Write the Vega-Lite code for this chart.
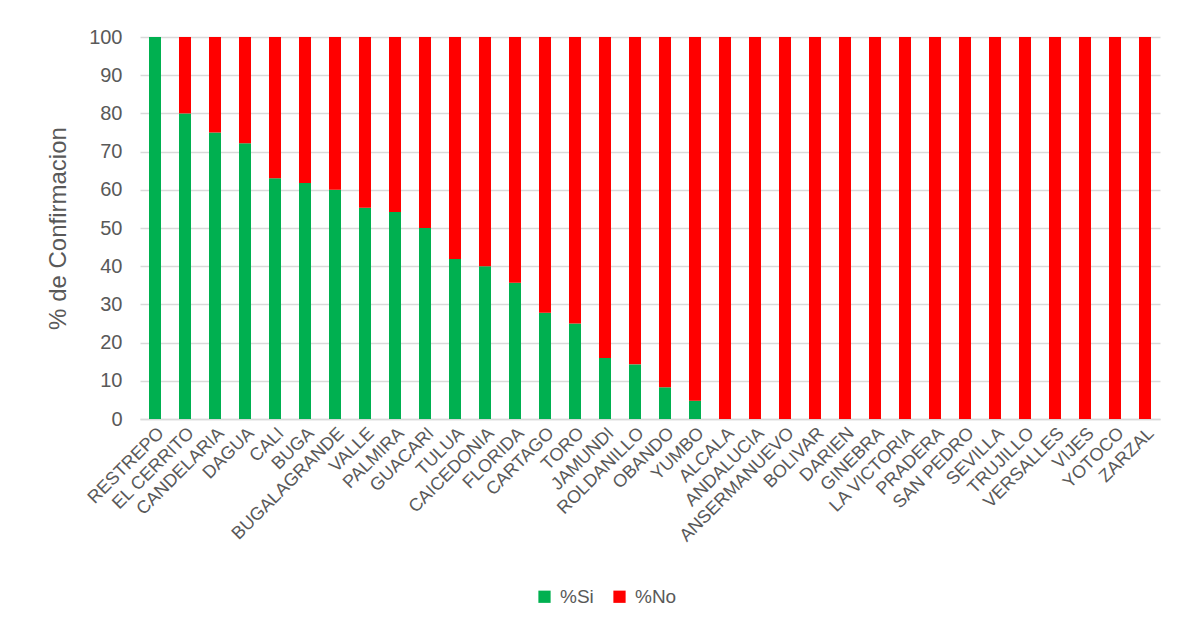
{
  "$schema": "https://vega.github.io/schema/vega-lite/v6.json",
  "width": 1020,
  "height": 382,
  "autosize": {"type": "none"},
  "padding": {"left": 140, "top": 37, "right": 17, "bottom": 209},
  "background": "white",
  "config": {
    "view": {"stroke": null},
    "font": "Liberation Sans",
    "axis": {"labelFont": "Liberation Sans", "titleFont": "Liberation Sans", "labelColor": "#595959", "titleColor": "#595959"}
  },
  "data": {
    "values": [
      {"municipio": "RESTREPO", "serie": "%Si", "k": 0, "valor": 100},
      {"municipio": "RESTREPO", "serie": "%No", "k": 1, "valor": 0},
      {"municipio": "EL CERRITO", "serie": "%Si", "k": 0, "valor": 80},
      {"municipio": "EL CERRITO", "serie": "%No", "k": 1, "valor": 20},
      {"municipio": "CANDELARIA", "serie": "%Si", "k": 0, "valor": 75},
      {"municipio": "CANDELARIA", "serie": "%No", "k": 1, "valor": 25},
      {"municipio": "DAGUA", "serie": "%Si", "k": 0, "valor": 72.2},
      {"municipio": "DAGUA", "serie": "%No", "k": 1, "valor": 27.8},
      {"municipio": "CALI", "serie": "%Si", "k": 0, "valor": 63},
      {"municipio": "CALI", "serie": "%No", "k": 1, "valor": 37},
      {"municipio": "BUGA", "serie": "%Si", "k": 0, "valor": 61.8},
      {"municipio": "BUGA", "serie": "%No", "k": 1, "valor": 38.2},
      {"municipio": "BUGALAGRANDE", "serie": "%Si", "k": 0, "valor": 60},
      {"municipio": "BUGALAGRANDE", "serie": "%No", "k": 1, "valor": 40},
      {"municipio": "VALLE", "serie": "%Si", "k": 0, "valor": 55.3},
      {"municipio": "VALLE", "serie": "%No", "k": 1, "valor": 44.7},
      {"municipio": "PALMIRA", "serie": "%Si", "k": 0, "valor": 54.2},
      {"municipio": "PALMIRA", "serie": "%No", "k": 1, "valor": 45.8},
      {"municipio": "GUACARI", "serie": "%Si", "k": 0, "valor": 50},
      {"municipio": "GUACARI", "serie": "%No", "k": 1, "valor": 50},
      {"municipio": "TULUA", "serie": "%Si", "k": 0, "valor": 41.9},
      {"municipio": "TULUA", "serie": "%No", "k": 1, "valor": 58.1},
      {"municipio": "CAICEDONIA", "serie": "%Si", "k": 0, "valor": 40},
      {"municipio": "CAICEDONIA", "serie": "%No", "k": 1, "valor": 60},
      {"municipio": "FLORIDA", "serie": "%Si", "k": 0, "valor": 35.7},
      {"municipio": "FLORIDA", "serie": "%No", "k": 1, "valor": 64.3},
      {"municipio": "CARTAGO", "serie": "%Si", "k": 0, "valor": 27.8},
      {"municipio": "CARTAGO", "serie": "%No", "k": 1, "valor": 72.2},
      {"municipio": "TORO", "serie": "%Si", "k": 0, "valor": 25},
      {"municipio": "TORO", "serie": "%No", "k": 1, "valor": 75},
      {"municipio": "JAMUNDI", "serie": "%Si", "k": 0, "valor": 16},
      {"municipio": "JAMUNDI", "serie": "%No", "k": 1, "valor": 84},
      {"municipio": "ROLDANILLO", "serie": "%Si", "k": 0, "valor": 14.3},
      {"municipio": "ROLDANILLO", "serie": "%No", "k": 1, "valor": 85.7},
      {"municipio": "OBANDO", "serie": "%Si", "k": 0, "valor": 8.3},
      {"municipio": "OBANDO", "serie": "%No", "k": 1, "valor": 91.7},
      {"municipio": "YUMBO", "serie": "%Si", "k": 0, "valor": 4.8},
      {"municipio": "YUMBO", "serie": "%No", "k": 1, "valor": 95.2},
      {"municipio": "ALCALA", "serie": "%Si", "k": 0, "valor": 0},
      {"municipio": "ALCALA", "serie": "%No", "k": 1, "valor": 100},
      {"municipio": "ANDALUCIA", "serie": "%Si", "k": 0, "valor": 0},
      {"municipio": "ANDALUCIA", "serie": "%No", "k": 1, "valor": 100},
      {"municipio": "ANSERMANUEVO", "serie": "%Si", "k": 0, "valor": 0},
      {"municipio": "ANSERMANUEVO", "serie": "%No", "k": 1, "valor": 100},
      {"municipio": "BOLIVAR", "serie": "%Si", "k": 0, "valor": 0},
      {"municipio": "BOLIVAR", "serie": "%No", "k": 1, "valor": 100},
      {"municipio": "DARIEN", "serie": "%Si", "k": 0, "valor": 0},
      {"municipio": "DARIEN", "serie": "%No", "k": 1, "valor": 100},
      {"municipio": "GINEBRA", "serie": "%Si", "k": 0, "valor": 0},
      {"municipio": "GINEBRA", "serie": "%No", "k": 1, "valor": 100},
      {"municipio": "LA VICTORIA", "serie": "%Si", "k": 0, "valor": 0},
      {"municipio": "LA VICTORIA", "serie": "%No", "k": 1, "valor": 100},
      {"municipio": "PRADERA", "serie": "%Si", "k": 0, "valor": 0},
      {"municipio": "PRADERA", "serie": "%No", "k": 1, "valor": 100},
      {"municipio": "SAN PEDRO", "serie": "%Si", "k": 0, "valor": 0},
      {"municipio": "SAN PEDRO", "serie": "%No", "k": 1, "valor": 100},
      {"municipio": "SEVILLA", "serie": "%Si", "k": 0, "valor": 0},
      {"municipio": "SEVILLA", "serie": "%No", "k": 1, "valor": 100},
      {"municipio": "TRUJILLO", "serie": "%Si", "k": 0, "valor": 0},
      {"municipio": "TRUJILLO", "serie": "%No", "k": 1, "valor": 100},
      {"municipio": "VERSALLES", "serie": "%Si", "k": 0, "valor": 0},
      {"municipio": "VERSALLES", "serie": "%No", "k": 1, "valor": 100},
      {"municipio": "VIJES", "serie": "%Si", "k": 0, "valor": 0},
      {"municipio": "VIJES", "serie": "%No", "k": 1, "valor": 100},
      {"municipio": "YOTOCO", "serie": "%Si", "k": 0, "valor": 0},
      {"municipio": "YOTOCO", "serie": "%No", "k": 1, "valor": 100},
      {"municipio": "ZARZAL", "serie": "%Si", "k": 0, "valor": 0},
      {"municipio": "ZARZAL", "serie": "%No", "k": 1, "valor": 100}
    ]
  },
  "mark": {"type": "bar"},
  "encoding": {
    "x": {
      "field": "municipio",
      "type": "nominal",
      "sort": null,
      "scale": {"paddingInner": 0.6, "paddingOuter": 0.3},
      "axis": {
        "title": null,
        "labelAngle": -45,
        "labelAlign": "right",
        "labelBaseline": "top",
        "labelFontSize": 18,
        "labelPadding": 5,
        "ticks": false,
        "domainColor": "#d9d9d9",
        "domainWidth": 1.5,
        "labelOverlap": false
      }
    },
    "y": {
      "field": "valor",
      "type": "quantitative",
      "stack": "zero",
      "scale": {"domain": [0, 100], "nice": false},
      "axis": {
        "title": "% de Confirmacion",
        "titleFontSize": 24,
        "titleFontWeight": "normal",
        "titlePadding": 18,
        "labelFontSize": 20,
        "labelPadding": 18,
        "values": [0, 10, 20, 30, 40, 50, 60, 70, 80, 90, 100],
        "ticks": false,
        "domain": false,
        "gridColor": "#d9d9d9",
        "gridWidth": 1.5
      }
    },
    "order": {"field": "k", "type": "quantitative", "sort": "ascending"},
    "color": {
      "field": "serie",
      "type": "nominal",
      "scale": {"domain": ["%Si", "%No"], "range": ["#00B050", "#FF0000"]},
      "legend": {
        "title": null,
        "orient": "none",
        "direction": "horizontal",
        "legendX": 395,
        "legendY": 550,
        "symbolType": "square",
        "symbolSize": 150,
        "symbolStrokeWidth": 0,
        "labelFontSize": 19,
        "labelColor": "#595959",
        "columnPadding": 16,
        "labelOffset": 6
      }
    }
  }
}
